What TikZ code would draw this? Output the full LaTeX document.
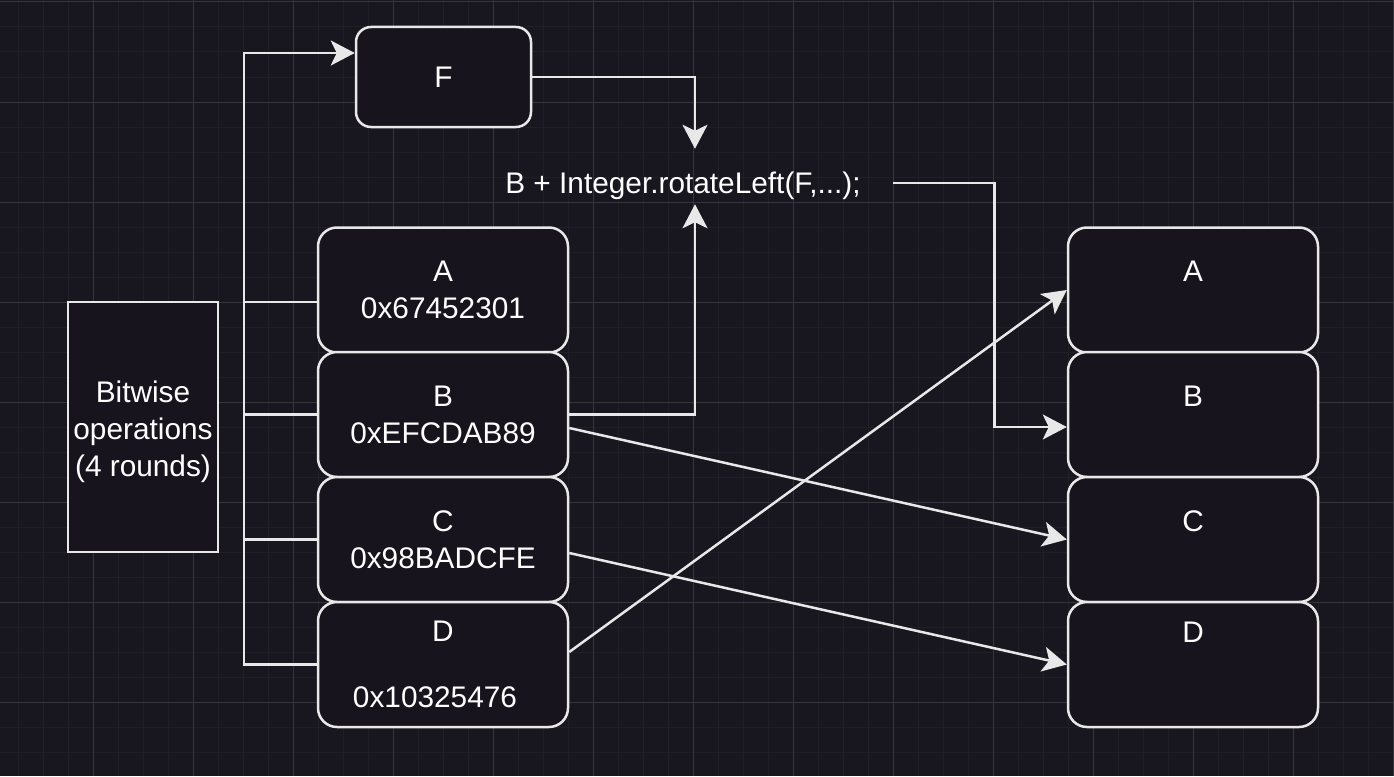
\documentclass[tikz,border=0pt]{standalone}
\usepackage{fontspec}
\setmainfont{Liberation Sans}
\usepackage{tikz}
\usetikzlibrary{arrows.meta}
\definecolor{canvas}{RGB}{24,22,31}
\definecolor{gridminor}{RGB}{32,30,38}
\definecolor{gridmajor}{RGB}{54,52,60}
\definecolor{boxfill}{RGB}{24,20,29}
\definecolor{edge}{RGB}{232,232,232}
\tikzset{
  font={\fontsize{29.8pt}{37pt}\selectfont}}

\begin{document}
\begin{tikzpicture}[x=1pt, y=-1pt, line width=2.5pt,
  membox/.style={draw=edge, fill=boxfill, text=white, rounded corners=19pt,
    minimum width=250pt, minimum height=125pt, align=center, inner sep=0pt},
  fbox/.style={draw=edge, fill=boxfill, text=white, rounded corners=15pt,
    minimum width=175pt, minimum height=100pt, inner sep=0pt},
  opsbox/.style={draw=edge, fill=boxfill, text=white,
    minimum width=150pt, minimum height=250pt, align=center, inner sep=0pt},
  wire/.style={draw=edge},
  link/.style={draw=edge, -{Stealth[length=24pt, width=25pt, inset=6pt]}}]
  % background and grid
  \useasboundingbox (0,0) rectangle (1394,776);
  \fill[canvas] (0,0) rectangle (1394,776);
  \foreach \x in {18,43,...,1394} \draw[gridminor, line width=1pt] (\x,0) -- (\x,776);
  \foreach \y in {2,27,...,776} \draw[gridminor, line width=1pt] (0,\y) -- (1394,\y);
  \foreach \x in {93,193,...,1394} \draw[gridmajor, line width=1pt] (\x,0) -- (\x,776);
  \foreach \y in {2,102,...,776} \draw[gridmajor, line width=1pt] (0,\y) -- (1394,\y);

  \node (F) [fbox] at (443.5,77) {F};
  \node (rot) [text=white, text height=40pt, text depth=6pt, inner xsep=0pt,
    inner ysep=3.5pt, minimum width=418pt] at (683,176.5) {B + Integer.rotateLeft(F,...);};
  \node (ops) [opsbox] at (143,427) {\rule{0pt}{32pt}Bitwise\\operations\\(4 rounds)};

  % input registers
  \node (a) [membox] at (443,290) {A\\0x67452301};
  \node (b) [membox] at (443,414.5) {B\\0xEFCDAB89};
  \node (c) [membox] at (443,539.5) {C\\0x98BADCFE};
  \node (d) [membox] at (443,664.5) {D\\[29pt]\hspace*{-16pt}0x10325476};

  % output registers
  \node (ra) [membox] at (1193,290) {A\\~};
  \node (rb) [membox] at (1193,414.5) {B\\~};
  \node (rc) [membox] at (1193,539.5) {C\\~};
  \node (rd) [membox] at (1193,664.5) {D\\[28pt]~};

  \draw[link] (d.west) -- ++(-73,0) |- ([yshift=24pt]F.west);
  \draw[wire] ([yshift=-12pt]a.west) -- ++(-73,0);
  \draw[wire] (b.west) -- ++(-73,0);
  \draw[wire] (c.west) -- ++(-73,0);
  \draw[link] (F.east) -| ([xshift=12pt]rot.north);
  \draw[link] (b.east) -| ([xshift=12pt]rot.south);
  \draw[link] ([yshift=-6.5pt]rot.east) -- ++(101,0) |- ([yshift=-12.5pt]rb.west);
  \draw[link] ([yshift=-13.5pt]b.east) -- (rc.west);
  \draw[link] ([yshift=-13.5pt]c.east) -- (rd.west);
  \draw[link] ([yshift=12.5pt]d.east) -- (ra.west);
\end{tikzpicture}
\end{document}
